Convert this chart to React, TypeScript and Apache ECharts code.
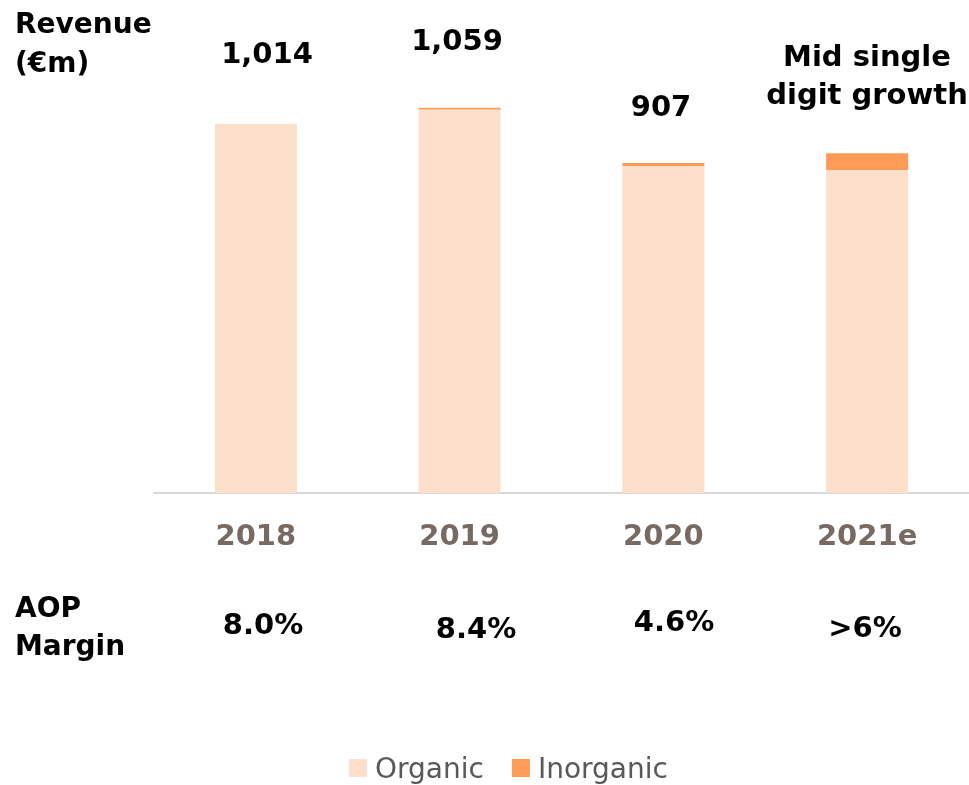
import React, { useEffect, useRef } from "react";
import * as echarts from "echarts";

const categories = ["2018", "2019", "2020", "2021e"];
const organic = [1014, 1054, 899, 888];
const inorganic = [0, 5, 8, 46];
const totalLabels = ["1,014", "1,059", "907", "Mid single\ndigit growth"];
const aopMargins = ["8.0%", "8.4%", "4.6%", ">6%"];

const FONT = "'DejaVu Sans', Verdana, sans-serif";

export default function App() {
  const ref = useRef<HTMLDivElement>(null);
  useEffect(() => {
    if (!ref.current) return;
    const chart = echarts.init(ref.current, undefined, { renderer: "svg" });
    const boldText = (
      text: string,
      x: number,
      y: number,
      align = "center",
      size = 29,
      lh = 38
    ) => ({
      type: "text",
      x,
      y,
      style: {
        text,
        fill: "#000",
        font: `bold ${size}px ${FONT}`,
        textAlign: align,
        textVerticalAlign: "middle",
        lineHeight: lh,
      },
    });
    const labelPos = [
      [267, 53],
      [457, 40],
      [661, 106],
      [867, 75],
    ];
    const marginPos = [
      [263, 624],
      [476, 628],
      [674, 621],
      [865, 627],
    ];
    chart.setOption({
      animation: false,
      grid: { left: 154, width: 820, top: 20, bottom: 292 },
      xAxis: {
        type: "category",
        data: categories,
        axisLine: { lineStyle: { color: "#d9d9d9", width: 2 } },
        axisTick: { show: false },
        axisLabel: {
          color: "#766a62",
          fontFamily: FONT,
          fontWeight: "bold",
          fontSize: 29,
          margin: 42,
          verticalAlign: "middle",
        },
      },
      yAxis: {
        type: "value",
        min: 0,
        max: 1300,
        show: false,
        splitLine: { show: false },
      },
      legend: {
        left: 344,
        top: 749,
        itemWidth: 18,
        itemHeight: 18,
        itemGap: 28,
        icon: "rect",
        textStyle: {
          fontFamily: FONT,
          fontSize: 28,
          lineHeight: 28,
          color: "#595959",
          padding: [0, 0, 0, 3],
        },
        data: ["Organic", "Inorganic"],
      },
      series: [
        {
          name: "Organic",
          type: "bar",
          stack: "rev",
          barWidth: 82,
          data: organic,
          itemStyle: { color: "#fde0cb" },
        },
        {
          name: "Inorganic",
          type: "bar",
          stack: "rev",
          barWidth: 82,
          data: inorganic,
          itemStyle: { color: "#ff9a57" },
        },
      ],
      graphic: [
        boldText("Revenue\n(€m)", 15, 42.5, "left", 28, 39),
        boldText("AOP\nMargin", 15, 626, "left", 28, 38),
        ...totalLabels.map((t, i) => boldText(t, labelPos[i][0], labelPos[i][1])),
        ...aopMargins.map((t, i) => boldText(t, marginPos[i][0], marginPos[i][1])),
      ],
    });
    return () => chart.dispose();
  }, []);
  return (
    <div
      ref={ref}
      style={{ position: "fixed", left: 0, top: 0, width: 969, height: 785 }}
    />
  );
}
